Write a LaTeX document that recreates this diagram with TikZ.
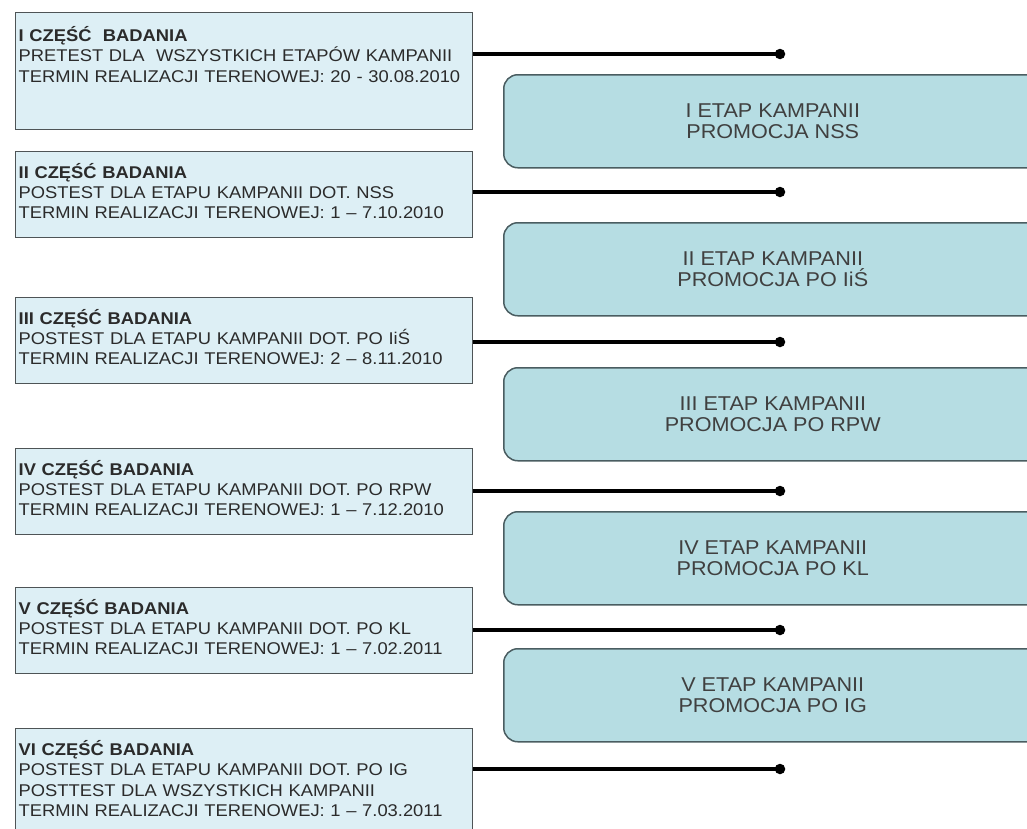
\documentclass[tikz,border=0pt]{standalone}
\usepackage{fontspec}
\setmainfont{Liberation Sans}[FakeStretch=1.08]
\usetikzlibrary{positioning, calc}

\definecolor{badaniefill}{HTML}{DDEFF5}
\definecolor{etapfill}{HTML}{B6DDE3}
\definecolor{ramka}{HTML}{4E5456}
\definecolor{etapramka}{HTML}{4A5D61}
\definecolor{tekst}{HTML}{2B2B2B}

\tikzset{
  badanie/.style = {draw = ramka, line width = 1.3pt, fill = badaniefill, anchor = north west,
    inner xsep = 3pt, inner ysep = 0pt, text width = 451pt, align = left, text = tekst,
    font = \fontsize{17}{20.3}\selectfont, text height = 26.5pt, text depth = 59.5pt},
  etap/.style = {draw = etapramka, line width = 1.5pt, fill = etapfill, rounded corners = 14pt,
    anchor = north west, minimum width = 538pt, minimum height = 93pt, align = center,
    text = tekst!90, font = \fontsize{20}{21.5}\selectfont},
  polacz/.style = {line width = 3.2pt, black},
  kropka/.style = {circle, fill = black, inner sep = 0pt, minimum size = 10.5pt}
}

\begin{document}
\begin{tikzpicture}[x = 1pt, y = -1pt]

%%% Rahmen des Bildes
\useasboundingbox (0,0) rectangle (1027,828);
\clip (0,0) rectangle (1027,828);

%%% Etapy kampanii (prawa kolumna)
\node[etap] (e1) at (503,74)  {I ETAP KAMPANII\\PROMOCJA NSS};
\node[etap] (e2) at (503,222) {II ETAP KAMPANII\\PROMOCJA PO IiŚ};
\node[etap] (e3) at (503,367) {III ETAP KAMPANII\\PROMOCJA PO RPW};
\node[etap] (e4) at (503,511) {IV ETAP KAMPANII\\PROMOCJA PO KL};
\node[etap] (e5) at (503,648) {V ETAP KAMPANII\\PROMOCJA PO IG};

%%% Części badania (lewa kolumna)
\node[badanie, text height = 29pt, text depth = 88pt] (b1) at (15,12)
  {\textbf{I CZĘŚĆ~ BADANIA}\\PRETEST DLA~ WSZYSTKICH ETAPÓW KAMPANII\\TERMIN REALIZACJI TERENOWEJ: 20 - 30.08.2010};
\node[badanie] (b2) at (15,151)
  {\textbf{II CZĘŚĆ BADANIA}\\POSTEST DLA ETAPU KAMPANII DOT. NSS\\TERMIN REALIZACJI TERENOWEJ: 1 -- 7.10.2010};
\node[badanie] (b3) at (15,297)
  {\textbf{III CZĘŚĆ BADANIA}\\POSTEST DLA ETAPU KAMPANII DOT. PO IiŚ\\TERMIN REALIZACJI TERENOWEJ: 2 -- 8.11.2010};
\node[badanie] (b4) at (15,448)
  {\textbf{IV CZĘŚĆ BADANIA}\\POSTEST DLA ETAPU KAMPANII DOT. PO RPW\\TERMIN REALIZACJI TERENOWEJ: 1 -- 7.12.2010};
\node[badanie] (b5) at (15,587)
  {\textbf{V CZĘŚĆ BADANIA}\\POSTEST DLA ETAPU KAMPANII DOT. PO KL\\TERMIN REALIZACJI TERENOWEJ: 1 -- 7.02.2011};
\node[badanie, text height = 27pt, text depth = 90pt] (b6) at (15,728)
  {\textbf{VI CZĘŚĆ BADANIA}\\POSTEST DLA ETAPU KAMPANII DOT. PO IG\\POSTTEST DLA WSZYSTKICH KAMPANII\\TERMIN REALIZACJI TERENOWEJ: 1 -- 7.03.2011};

%%% Końce linii
\node[kropka] (k1) at (780,54)  {};
\node[kropka] (k2) at (780,192) {};
\node[kropka] (k3) at (780,342) {};
\node[kropka] (k4) at (780,491) {};
\node[kropka] (k5) at (780,630) {};
\node[kropka] (k6) at (780,769) {};

%%% Linie
\draw[polacz] (b1.east |- k1) -- (k1.center);
\draw[polacz] (b2.east |- k2) -- (k2.center);
\draw[polacz] (b3.east |- k3) -- (k3.center);
\draw[polacz] (b4.east |- k4) -- (k4.center);
\draw[polacz] (b5.east |- k5) -- (k5.center);
\draw[polacz] (b6.east |- k6) -- (k6.center);

\end{tikzpicture}
\end{document}
